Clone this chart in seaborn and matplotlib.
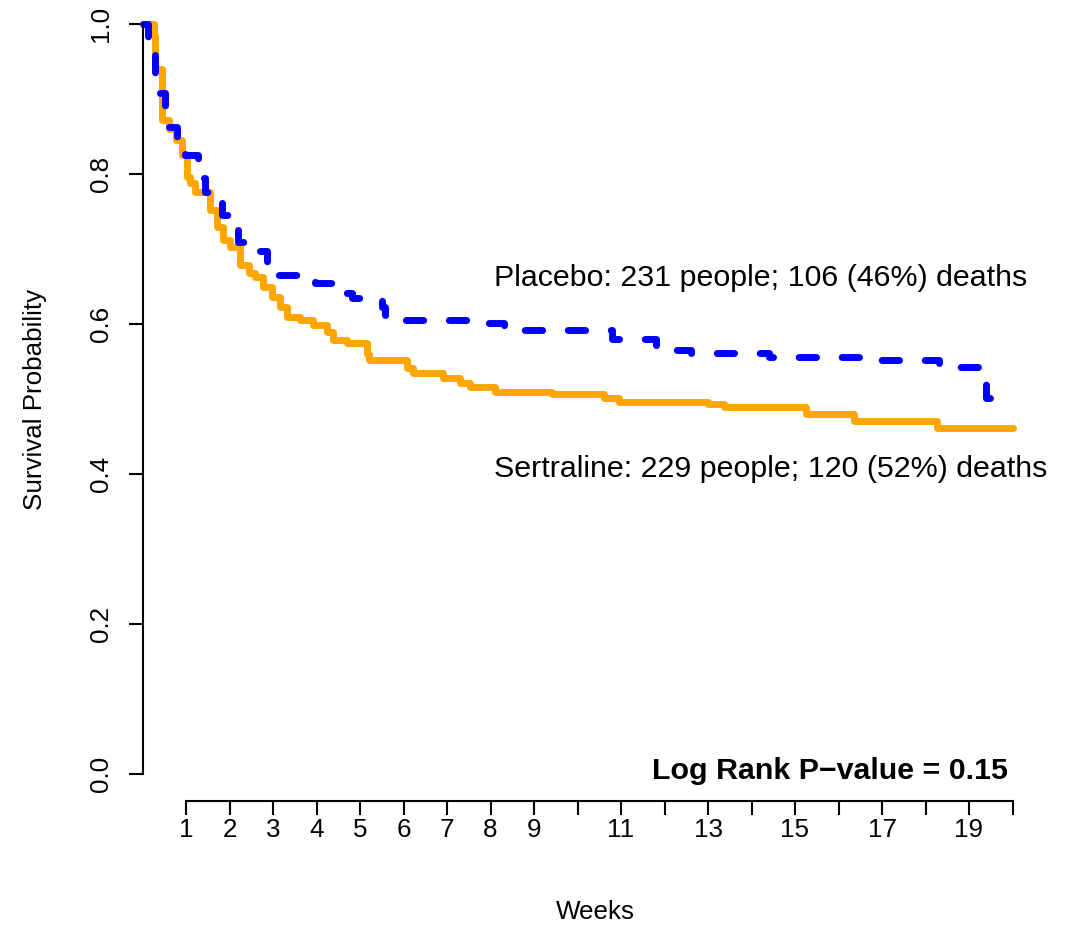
import matplotlib
matplotlib.use("Agg")
import matplotlib.pyplot as plt
import pandas as pd
import seaborn as sns

# ---- data (Kaplan-Meier steps) ----
sert_weeks = [0.00, 0.26, 0.29, 0.45, 0.62, 0.76, 0.90, 1.02, 1.10, 1.21, 1.55, 1.71,
              1.85, 2.01, 2.24, 2.45, 2.59, 2.77, 2.98, 3.16, 3.32, 3.62, 3.92, 4.25,
              4.38, 4.70, 5.16, 5.20, 6.08, 6.22, 6.91, 7.30, 7.53, 8.10, 9.41, 10.61,
              10.95, 13.00, 13.37, 15.25, 16.36, 18.26, 20.00]
sert_surv = [1.000, 0.985, 0.940, 0.872, 0.860, 0.845, 0.825, 0.796, 0.788, 0.776, 0.752, 0.730,
             0.712, 0.703, 0.679, 0.668, 0.663, 0.649, 0.636, 0.623, 0.610, 0.605, 0.599, 0.589,
             0.579, 0.575, 0.560, 0.552, 0.541, 0.535, 0.528, 0.521, 0.516, 0.510, 0.507, 0.502,
             0.496, 0.493, 0.490, 0.480, 0.471, 0.462, 0.462]

plac_weeks = [0.00, 0.13, 0.29, 0.52, 0.79, 0.98, 1.28, 1.44, 1.83, 1.97, 2.20, 2.36,
              2.86, 3.00, 3.78, 3.97, 4.61, 4.82, 5.51, 5.58, 5.95, 7.55, 8.30, 10.80,
              11.80, 12.13, 12.60, 14.40, 16.70, 18.30, 19.39, 19.55]
plac_surv = [1.000, 0.965, 0.908, 0.863, 0.832, 0.825, 0.795, 0.776, 0.745, 0.739, 0.710, 0.697,
             0.677, 0.665, 0.660, 0.655, 0.641, 0.635, 0.623, 0.612, 0.605, 0.601, 0.592, 0.580,
             0.569, 0.565, 0.561, 0.556, 0.552, 0.543, 0.501, 0.501]

x_ticks = list(range(1, 21))
x_tick_labels = ["1", "2", "3", "4", "5", "6", "7", "8", "9", "", "11", "", "13", "",
                 "15", "", "17", "", "19", ""]
y_ticks = [0.0, 0.2, 0.4, 0.6, 0.8, 1.0]
y_tick_labels = ["0.0", "0.2", "0.4", "0.6", "0.8", "1.0"]

placebo_label = "Placebo: 231 people; 106 (46%) deaths"
sertraline_label = "Sertraline: 229 people; 120 (52%) deaths"
pvalue_label = "Log Rank P\u2212value = 0.15"

# ---- style ----
sns.set_theme(style="white")
plt.rcParams["font.family"] = ["Liberation Sans", "DejaVu Sans"]
plt.rcParams["text.color"] = "black"
plt.rcParams["axes.labelcolor"] = "black"
plt.rcParams["xtick.color"] = "black"
plt.rcParams["ytick.color"] = "black"

BASE = 18.7
ANNO = 21.9

fig = plt.figure(figsize=(10.76, 9.26), dpi=100)
ax = fig.add_axes([142.5 / 1076, 152 / 926, 870 / 1076, 750 / 926])

df_s = pd.DataFrame({"Weeks": sert_weeks, "Survival": sert_surv})
df_p = pd.DataFrame({"Weeks": plac_weeks, "Survival": plac_surv})

sns.lineplot(data=df_s, x="Weeks", y="Survival", ax=ax, color="#FFA500",
             linewidth=5, drawstyle="steps-post", estimator=None, sort=False,
             solid_capstyle="round", solid_joinstyle="round")
sns.lineplot(data=df_p, x="Weeks", y="Survival", ax=ax, color="#0000FF",
             linewidth=5, drawstyle="steps-post", estimator=None, sort=False,
             linestyle=(0, (2.5, 3.69)), dash_capstyle="round", dash_joinstyle="round")
for ln in ax.get_lines():
    ln.set_clip_on(False)

ax.set_xlim(0, 20)
ax.set_ylim(0, 1)

# axes like R base graphics
for s in ["top", "right"]:
    ax.spines[s].set_visible(False)
for s in ["left", "bottom"]:
    ax.spines[s].set_color("black")
    ax.spines[s].set_linewidth(1.5)
ax.spines["left"].set_bounds(0, 1)
ax.spines["bottom"].set_bounds(1, 20)
ax.spines["bottom"].set_position(("outward", 19.4))

ax.set_xticks(x_ticks)
ax.set_xticklabels(x_tick_labels, fontsize=BASE, color="black")
ax.set_yticks(y_ticks)
ax.set_yticklabels(y_tick_labels, fontsize=BASE, rotation=90, va="center", color="black")
ax.tick_params(axis="both", direction="out", length=10, width=1.5, color="black",
               bottom=True, left=True, labelcolor="black")
ax.tick_params(axis="x", pad=2)
ax.tick_params(axis="y", pad=11)

ax.set_xlabel("")
ax.set_ylabel("")
fig.text(595 / 1076, 1 - 912 / 926, "Weeks", fontsize=BASE, ha="center", va="center",
         color="black")
fig.text(35 / 1076, 1 - 399 / 926, "Survival Probability", fontsize=BASE,
         ha="center", va="center", rotation=90, color="black")

ax.text(8.08, 0.662, placebo_label, fontsize=ANNO, ha="left", va="center", color="black")
ax.text(8.08, 0.407, sertraline_label, fontsize=ANNO, ha="left", va="center", color="black")
ax.text(19.9, 0.004, pvalue_label, fontsize=ANNO, fontweight="bold", ha="right",
        va="center", color="black")

fig.savefig("out.png", dpi=100, facecolor="white")
